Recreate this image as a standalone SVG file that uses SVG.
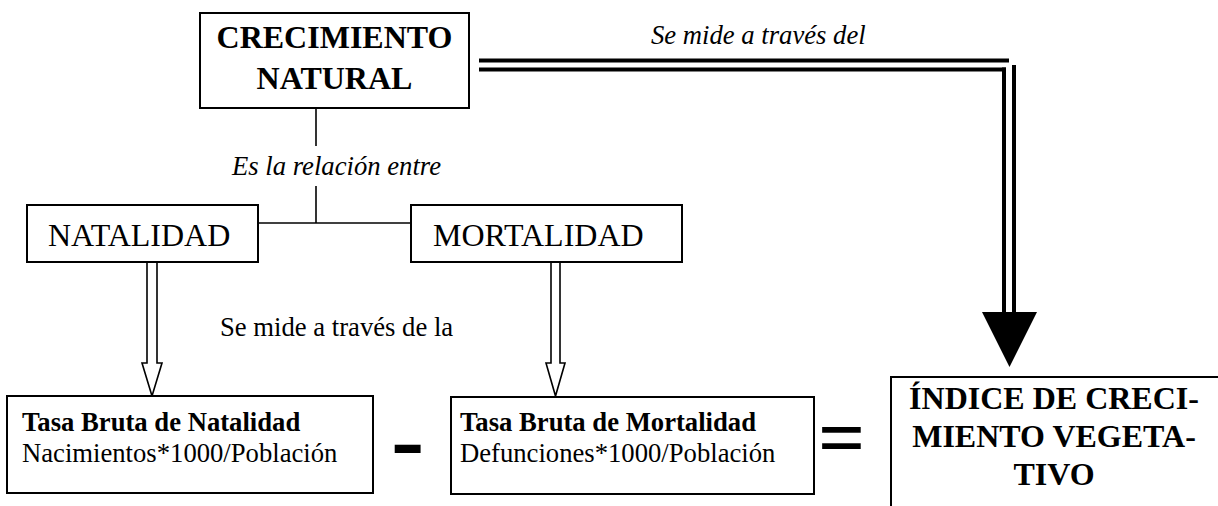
<svg xmlns="http://www.w3.org/2000/svg" width="1218" height="506" viewBox="0 0 1218 506">
<style>
.box{fill:#fff;stroke:#000;stroke-width:2}
.ln{fill:none;stroke:#000;stroke-width:1.6}
.dbl{fill:none;stroke:#000;stroke-width:4}
.hollow{fill:#fff;stroke:#000;stroke-width:1.6;stroke-linejoin:miter}
.t{font-family:"Liberation Serif","Times New Roman",serif;fill:#000}
.b32{font-size:32px;font-weight:bold}
.r32{font-size:32px}
.i{font-size:26.67px;font-style:italic}
.r{font-size:26.67px}
.b{font-size:26.67px;font-weight:bold}
</style>
<rect width="1218" height="506" fill="#fff"/>
<g id="connectors">
  <line class="ln" x1="316" y1="108" x2="316" y2="146"/>
  <line class="ln" x1="316" y1="186" x2="316" y2="223"/>
  <line class="ln" x1="258" y1="223" x2="411" y2="223"/>
  <path class="hollow" d="M147,262 V363 H142 L152,396 L162,363 H157 V262"/>
  <path class="hollow" d="M551,262 V363 H546 L555.5,396 L565,363 H560 V262"/>
  <line class="dbl" x1="479" y1="60.5" x2="1009" y2="60.5"/>
  <line class="dbl" x1="479" y1="69.5" x2="1006" y2="69.5"/>
  <line class="dbl" x1="1004" y1="67.5" x2="1004" y2="314"/>
  <line class="dbl" x1="1014" y1="65" x2="1014" y2="314"/>
  <polygon points="982,312 1037,312 1009.5,367" fill="#000"/>
  <text class="t i" x="651" y="44">Se mide a través del</text>
  <text class="t i" x="232" y="175">Es la relación entre</text>
  <text class="t r" x="220" y="336">Se mide a través de la</text>
</g>
<g id="crecimiento">
  <rect class="box" x="200" y="13" width="269" height="95"/>
  <text class="t b32" x="334.5" y="48" text-anchor="middle">CRECIMIENTO</text>
  <text class="t b32" x="334.5" y="89" text-anchor="middle">NATURAL</text>
</g>
<g id="natalidad">
  <rect class="box" x="27" y="205" width="231" height="57"/>
  <text class="t r32" x="48" y="246">NATALIDAD</text>
</g>
<g id="mortalidad">
  <rect class="box" x="411" y="205" width="271" height="57"/>
  <text class="t r32" x="433" y="246">MORTALIDAD</text>
</g>
<g id="tbn">
  <rect class="box" x="7" y="396" width="366" height="97"/>
  <text class="t b" x="22" y="431">Tasa Bruta de Natalidad</text>
  <text class="t r" x="22" y="462">Nacimientos*1000/Población</text>
</g>
<g id="minus">
  <text x="390" y="477" style="font-family:'Liberation Sans',Arial,sans-serif;font-size:106px">-</text>
</g>
<g id="tbm">
  <rect class="box" x="451" y="397" width="363" height="97"/>
  <text class="t b" x="460" y="431">Tasa Bruta de Mortalidad</text>
  <text class="t r" x="460" y="462">Defunciones*1000/Población</text>
</g>
<g id="equals">
  <text class="t" x="818" y="465" style="font-size:83px;font-weight:bold">=</text>
</g>
<g id="indice">
  <rect class="box" x="891" y="377" width="330" height="140"/>
  <text class="t b32" x="1054" y="409" text-anchor="middle">ÍNDICE DE CRECI-</text>
  <text class="t b32" x="1054" y="447" text-anchor="middle">MIENTO VEGETA-</text>
  <text class="t b32" x="1054" y="485" text-anchor="middle">TIVO</text>
</g>
</svg>
